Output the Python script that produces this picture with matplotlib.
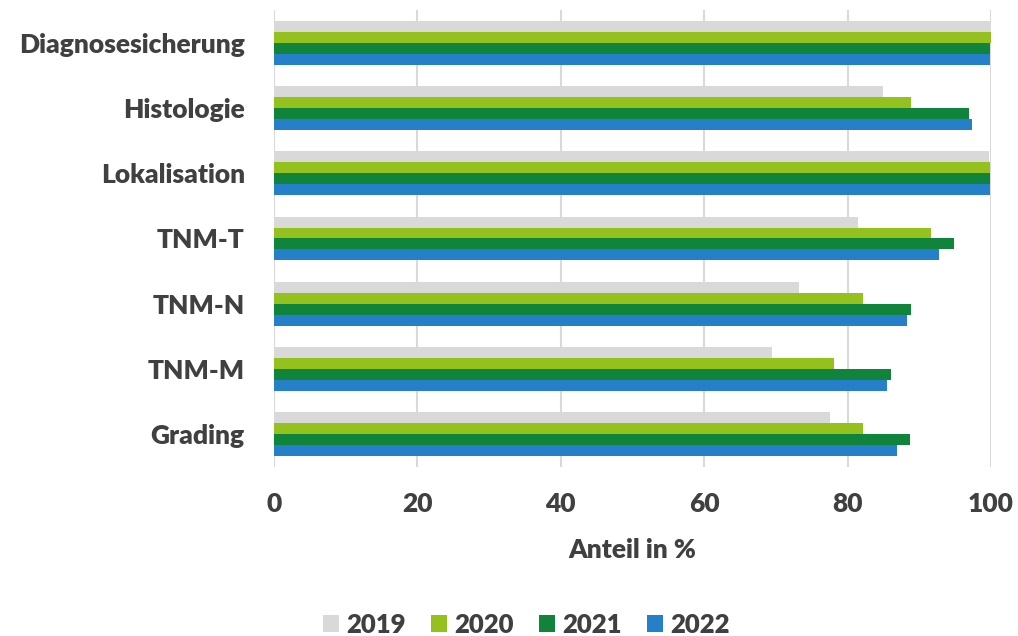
import matplotlib.pyplot as plt
import numpy as np

plt.rcParams['font.family'] = ['Lato', 'DejaVu Sans']
plt.rcParams['font.weight'] = 'heavy'

# data
categories = ['Diagnosesicherung', 'Histologie', 'Lokalisation', 'TNM-T',
              'TNM-N', 'TNM-M', 'Grading']
years = ['2019', '2020', '2021', '2022']
v2019 = [100.0, 85.0, 99.7, 81.5, 73.2, 69.5, 77.5]
v2020 = [100.0, 88.9, 99.8, 91.6, 82.1, 78.1, 82.2]
v2021 = [99.9, 97.0, 99.8, 94.8, 88.8, 86.1, 88.7]
v2022 = [99.9, 97.4, 99.9, 92.7, 88.3, 85.5, 86.9]
xticks = [0, 20, 40, 60, 80, 100]

colors = ['#D9D9D9', '#95C11F', '#10843A', '#2680C9']
text_col = '#404040'

fig = plt.figure(figsize=(10.18, 6.36), dpi=100)
W, H = 1018, 636
ax = fig.add_axes([274 / W, 1 - 467 / H, (991 - 274) / W, (467 - 10) / H])

y = np.arange(len(categories))
h = 0.168
for k, (vals, col, lab) in enumerate(zip([v2019, v2020, v2021, v2022], colors, years)):
    ax.barh(y + (k - 1.5) * h, vals, height=h, color=col, label=lab, zorder=3)

ax.set_ylim(len(categories) - 0.5, -0.5)
ax.set_xlim(0, 100)
ax.set_xticks(xticks)
ax.set_yticks(y)
ax.set_yticklabels(categories)
ax.tick_params(axis='both', length=0, labelsize=19, labelcolor=text_col)
ax.tick_params(axis='x', pad=18)
ax.tick_params(axis='y', pad=21)
ax.grid(axis='x', color='#D9D9D9', linewidth=1.5, zorder=0)
for s in ax.spines.values():
    s.set_visible(False)

ax.set_xlabel('Anteil in %', fontsize=19, color=text_col, fontweight='heavy', labelpad=16)

leg = ax.legend(loc='center', bbox_to_anchor=(0.352, -0.345), ncol=4, frameon=False,
                fontsize=18.5, handlelength=0.62, handleheight=0.62,
                handletextpad=0.3, columnspacing=0.97)
for t in leg.get_texts():
    t.set_color(text_col)

fig.savefig('out.png', dpi=100)
